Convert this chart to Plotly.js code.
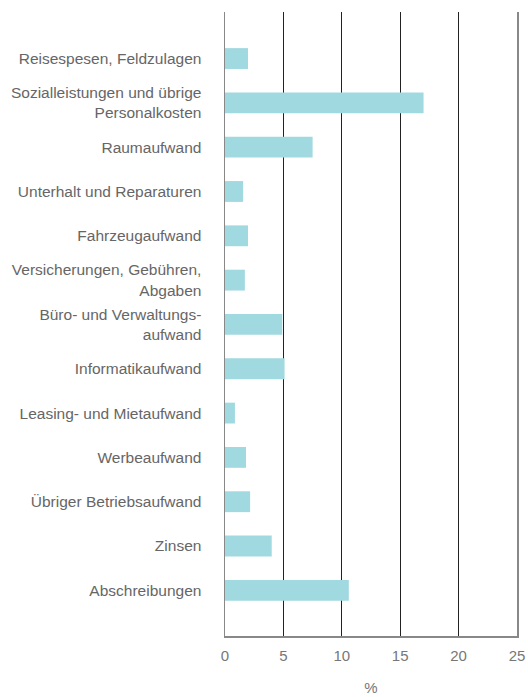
<!DOCTYPE html>
<html><head><meta charset="utf-8">
<script src="https://cdn.plot.ly/plotly-3.0.1.min.js"></script>
<style>html,body{margin:0;padding:0;background:#fff}#c{width:528px;height:697px}</style>
</head><body><div id="c"></div>
<script>
const categories = [
  "Reisespesen, Feldzulagen",
  "Sozialleistungen und übrige<br>Personalkosten",
  "Raumaufwand",
  "Unterhalt und Reparaturen",
  "Fahrzeugaufwand",
  "Versicherungen, Gebühren,<br>Abgaben",
  "Büro- und Verwaltungs-<br>aufwand",
  "Informatikaufwand",
  "Leasing- und Mietaufwand",
  "Werbeaufwand",
  "Übriger Betriebsaufwand",
  "Zinsen",
  "Abschreibungen"
];
const values = [1.97, 17.0, 7.5, 1.55, 1.97, 1.7, 4.9, 5.1, 0.85, 1.8, 2.15, 4.0, 10.6];
const xTicks = [0, 5, 10, 15, 20, 25];

const trace = {
  type: 'bar', orientation: 'h',
  x: values, y: categories,
  marker: {color: '#a0d9e0'},
  width: 0.47,
  hoverinfo: 'none'
};
const layout = {
  width: 528, height: 697,
  margin: {l: 225, r: 11, t: 12, b: 61},
  paper_bgcolor: '#fff', plot_bgcolor: '#fff',
  font: {family: '"Liberation Sans", Arial, sans-serif', size: 15, color: '#666'},
  showlegend: false,
  xaxis: {
    range: [0, 25], tickvals: xTicks, ticktext: xTicks.map(String),
    showgrid: true, gridcolor: '#222', gridwidth: 1,
    zeroline: false,
    showline: true, linecolor: '#888', linewidth: 1.5,
    ticks: 'outside', ticklen: 5, tickcolor: 'rgba(0,0,0,0)',
    tickfont: {size: 15, color: '#777'},
    title: {text: '%', font: {size: 15, color: '#777'}, standoff: 20},
    fixedrange: true
  },
  yaxis: {
    type: 'category', categoryorder: 'array', categoryarray: categories,
    range: [13.03, -1.05],
    showgrid: false, zeroline: false,
    showline: true, mirror: true, linecolor: '#888', linewidth: 1.5,
    ticks: 'outside', ticklen: 19, tickcolor: 'rgba(0,0,0,0)',
    tickfont: {size: 15.5, color: '#666'},
    fixedrange: true
  }
};
Plotly.newPlot('c', [trace], layout, {displayModeBar: false, staticPlot: true});
</script></body></html>
